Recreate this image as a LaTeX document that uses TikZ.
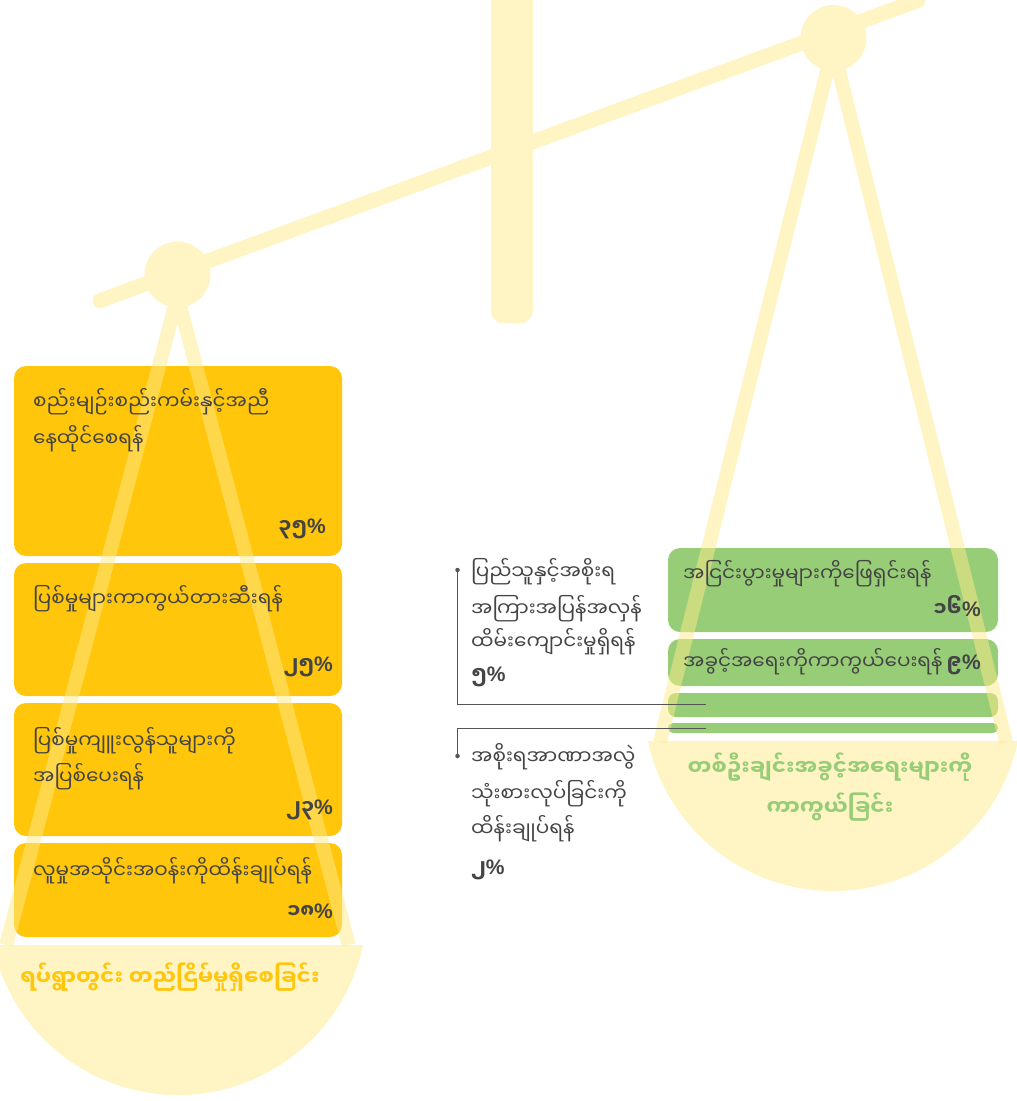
\documentclass[tikz,border=0pt]{standalone}
\usepackage{fontspec}
\newfontfamily\myfont[Script=Myanmar]{Noto Sans Myanmar UI}
\newfontfamily\latfont{Liberation Sans}
\definecolor{pale}{HTML}{FFF4C4}
\definecolor{strg}{HTML}{FFE989}
\definecolor{gold}{HTML}{FFC60B}
\definecolor{leaf}{HTML}{98CD78}
\definecolor{ink}{HTML}{444444}
\definecolor{wirec}{HTML}{555555}
\newcommand\pc{{\latfont\bfseries\fontsize{21}{24}\selectfont\%}}
\begin{document}
\begin{tikzpicture}[x=1pt,y=-1pt,
  boxbase/.style={inner sep=0pt, outer sep=0pt, anchor=north west, draw=none},
  ybox/.style={boxbase, fill=gold, rounded corners=12pt, minimum width=328pt},
  gbox/.style={boxbase, fill=leaf, rounded corners=#1, minimum width=330pt},
  gbox/.default=12pt,
  txt/.style={font=\myfont\fontsize{20}{24}\selectfont, text=ink, inner sep=0pt, anchor=base west},
  pct/.style={font=\myfont\bfseries\fontsize{20}{24}\selectfont, text=ink, inner sep=0pt, anchor=base east},
  pctl/.style={pct, anchor=base west},
  strng/.style={draw=strg, line width=14pt, opacity=0.5, line join=round},
  wire/.style={draw=wirec, line width=0.9pt},
  dotc/.style={circle, fill=wirec, inner sep=0pt, minimum size=4.5pt},
  panlabel/.style={font=\myfont\bfseries\fontsize{21.5}{24}\selectfont, inner sep=0pt, anchor=base},
]
\useasboundingbox (0,0) rectangle (1017,1101);
% pans
\fill[pale] (363,945) arc[start angle=11.93, end angle=168.07, radius=189.1] -- cycle;
\fill[pale] (1018,741) arc[start angle=11.93, end angle=168.07, radius=189.1] -- cycle;
% post and beam
\fill[pale, rounded corners=12pt] (491,-30) rectangle (533,323);
\draw[pale, line width=15pt, line cap=round] (100,300.6) -- (918,0.4);
% yellow boxes
\node[ybox, minimum height=190pt] (b1) at (14,366) {};
\node[ybox, minimum height=133pt] (b2) at (14,563) {};
\node[ybox, minimum height=133pt] (b3) at (14,703) {};
\node[ybox, minimum height=94pt] (b4) at (14,843) {};
% green boxes
\node[gbox, minimum height=84pt] (g1) at (668,548) {};
\node[gbox, minimum height=47pt] (g2) at (668,639) {};
\node[gbox=8pt, minimum height=24pt] (g3) at (668,693) {};
\node[gbox=5pt, minimum height=10pt] (g4) at (668,723) {};
% strings
\coordinate (apexL) at (177.5,296);
\coordinate (sLl) at (6.2,945);
\coordinate (sLr) at (348.8,945);
\coordinate (apexR) at (833,47);
\coordinate (sRl) at (660,742);
\coordinate (sRr) at (1006,742);
\draw[strng] (sLl) -- (apexL) -- (sLr);
\draw[strng] (sRl) -- (apexR) -- (sRr);
% pivots
\fill[pale] (177.5,274.5) circle[radius=33];
\fill[pale] (833.5,38) circle[radius=33];
% left texts
\node[txt] (t1a) at (33,409) {စည်းမျဉ်းစည်းကမ်းနှင့်အညီ};
\node[txt] (t1b) at (33,446) {နေထိုင်စေရန်};
\node[pct] (p1) at (326,533) {၃၅\pc};
\node[txt] (t2) at (33,606) {ပြစ်မှုများကာကွယ်တားဆီးရန်};
\node[pct] (p2) at (333,671) {၂၅\pc};
\node[txt] (t3a) at (33,748) {ပြစ်မှုကျူးလွန်သူများကို};
\node[txt] (t3b) at (33,784) {အပြစ်ပေးရန်};
\node[pct] (p3) at (333,814) {၂၃\pc};
\node[txt] (t4) at (33,878) {လူမှုအသိုင်းအဝန်းကိုထိန်းချုပ်ရန်};
\node[pct] (p4) at (333,918) {၁၈\pc};
\node[panlabel, text=gold] (lp) at (170,985) {ရပ်ရွာတွင်း တည်ငြိမ်မှုရှိစေခြင်း};
% green texts
\node[txt] (gt1) at (683,581) {အငြင်းပွားမှုများကိုဖြေရှင်းရန်};
\node[pct] (gp1) at (981,616) {၁၆\pc};
\node[txt] (gt2) at (683,669) {အခွင့်အရေးကိုကာကွယ်ပေးရန်};
\node[pct] (gp2) at (981,669) {၉\pc};
\node[panlabel, text=leaf] (rp1) at (830,775) {တစ်ဦးချင်းအခွင့်အရေးများကို};
\node[panlabel, text=leaf] (rp2) at (830,815) {ကာကွယ်ခြင်း};
% callouts
\node[txt] (c1a) at (471,579) {ပြည်သူနှင့်အစိုးရ};
\node[txt] (c1b) at (471,616) {အကြားအပြန်အလှန်};
\node[txt] (c1c) at (471,649) {ထိမ်းကျောင်းမှုရှိရန်};
\node[pctl] (c1p) at (471,681) {၅\pc};
\node[txt] (c2a) at (471,764) {အစိုးရအာဏာအလွဲ};
\node[txt] (c2b) at (471,801) {သုံးစားလုပ်ခြင်းကို};
\node[txt] (c2c) at (471,836) {ထိန်းချုပ်ရန်};
\node[pctl] (c2p) at (471,874) {၂\pc};
\node[dotc] (d1) at (457.5,570) {};
\node[dotc] (d2) at (457.5,756) {};
\coordinate (e1) at (706,704);
\coordinate (e2) at (706,728);
\draw[wire] (d1.center) |- (e1);
\draw[wire] (e2) -| (d2.center);
\end{tikzpicture}
\end{document}
